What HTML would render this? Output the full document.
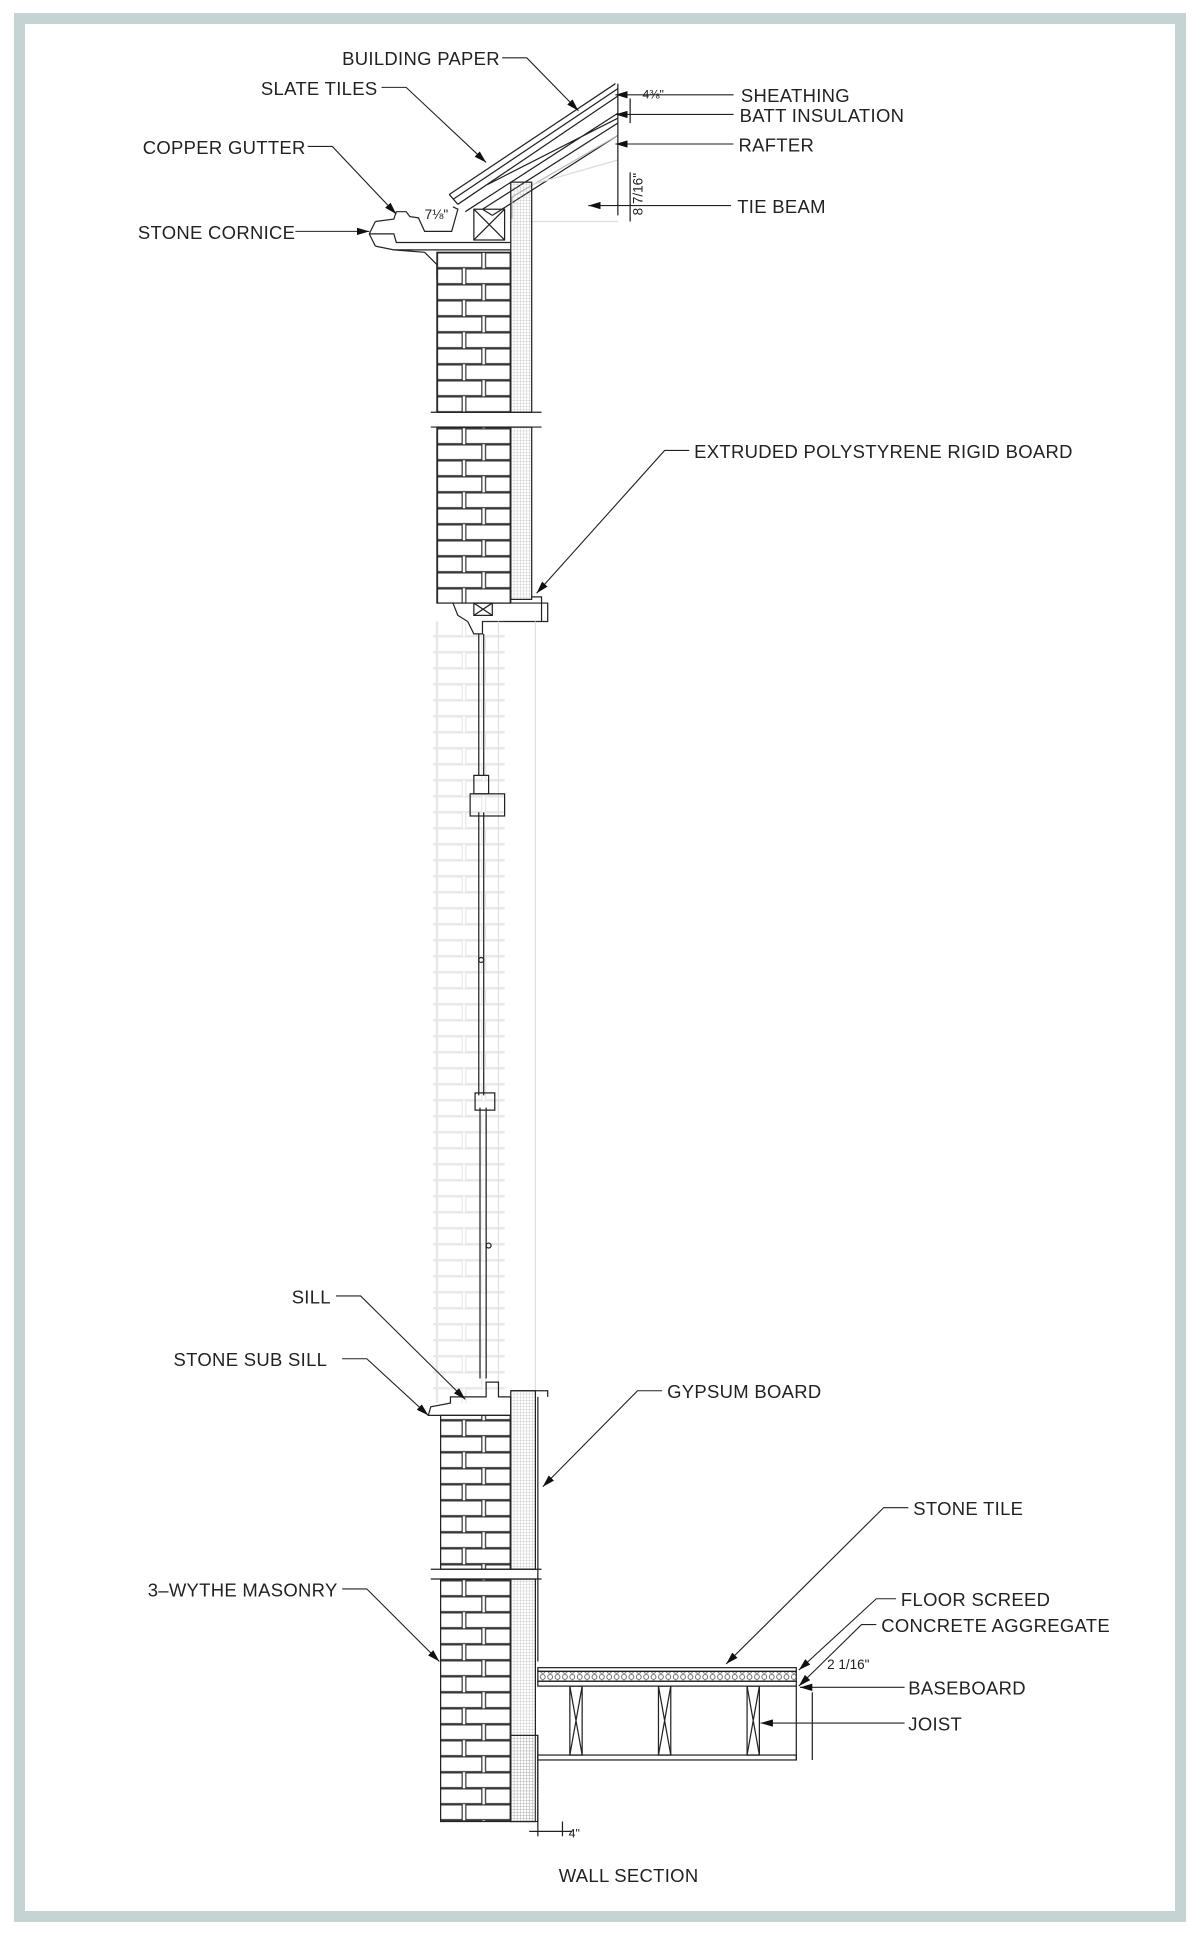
<!DOCTYPE html>
<html><head><meta charset="utf-8"><style>
html,body{margin:0;padding:0;background:#fff;}
body{width:1200px;height:1934px;position:relative;overflow:hidden;}
#frame{position:absolute;left:14px;top:13px;width:1150px;height:1887px;border:11px solid #c5d3d3;}
svg{position:absolute;left:0;top:0;}
text{font-family:"Liberation Sans",sans-serif;font-size:15px;letter-spacing:0.25px;fill:#222;}
</style></head><body>
<div id="frame"></div>
<svg width="1200" height="1934" viewBox="0 0 975 1571.4" preserveAspectRatio="none">
<defs>
<pattern id="brick" x="355" y="205" width="60" height="26" patternUnits="userSpaceOnUse">
<rect x="0.5" y="0.5" width="36" height="12" fill="none" stroke="#222" stroke-width="0.9"/>
<rect x="39.5" y="0.5" width="20" height="12" fill="none" stroke="#222" stroke-width="0.9"/>
<rect x="0.5" y="13.5" width="20" height="12" fill="none" stroke="#222" stroke-width="0.9"/>
<rect x="23.5" y="13.5" width="36" height="12" fill="none" stroke="#222" stroke-width="0.9"/>
</pattern>
<pattern id="brickL" x="355" y="205" width="60" height="26" patternUnits="userSpaceOnUse">
<rect x="0.5" y="0.5" width="36" height="12" fill="none" stroke="#e2e2e2" stroke-width="0.8"/>
<rect x="39.5" y="0.5" width="20" height="12" fill="none" stroke="#e2e2e2" stroke-width="0.8"/>
<rect x="0.5" y="13.5" width="20" height="12" fill="none" stroke="#e2e2e2" stroke-width="0.8"/>
<rect x="23.5" y="13.5" width="36" height="12" fill="none" stroke="#e2e2e2" stroke-width="0.8"/>
</pattern>
<pattern id="grid" width="2.5" height="2.5" patternUnits="userSpaceOnUse">
<path d="M0 0H2.5M0 0V2.5" stroke="#999" stroke-width="0.4" fill="none"/>
</pattern>
<pattern id="agg" width="6" height="5" patternUnits="userSpaceOnUse">
<circle cx="3" cy="2.5" r="2" fill="none" stroke="#444" stroke-width="0.6"/>
</pattern>
<marker id="ar" markerWidth="10" markerHeight="6" refX="10" refY="3" orient="auto" markerUnits="userSpaceOnUse">
<path d="M0 0L10 3L0 6z" fill="#111"/>
</marker>
</defs>

<g stroke="#222" fill="none" stroke-width="1">
<path d="M365 158 L500 68 M368 162 L502 72 M372 166 L502 78 M378 172 L502 92 M396 150 L502 96"/>
<path d="M392 170 L502 100 M400 175 L502 110 M392 170 L400 175"/>
<path d="M372 166 L365 158" />
<path d="M416 160 L502 110 M416 160 L416 178" stroke="#bbb"/>
<path d="M432 180 L502 180 M432 150 L502 130" stroke="#ddd"/>
<path d="M305 180 L320 178 L322 172 L330 172 L333 176 L340 177 L345 188 L367 188 L372 170 L368 168"/>
<path d="M300 190 L320 190 L322 197 L415 197 M305 180 L300 190 M305 200 L320 203 L345 205 L355 215 L355 227"/>
<path d="M305 200 L300 190 M320 203 L415 203"/>
<rect x="385" y="170" width="25" height="25"/>
<path d="M385 170 L410 195 M410 170 L385 195"/>
<line x1="502" y1="68" x2="502" y2="175"/>
</g>
<rect x="415" y="148" width="17" height="187" fill="url(#grid)" stroke="#222"/>
<rect x="415" y="347" width="17" height="140" fill="url(#grid)" stroke="#222"/>
<rect x="355" y="205" width="60" height="130" fill="url(#brick)" stroke="#222"/>
<rect x="355" y="347" width="60" height="143" fill="url(#brick)" stroke="#222"/>
<line x1="350" y1="335" x2="440" y2="335" stroke="#222"/>
<line x1="350" y1="347" x2="440" y2="347" stroke="#222"/>
<g stroke="#222" fill="none" stroke-width="1">
<path d="M368 490 L372 500 L380 505 L385 515 L392 515 L392 505 L445 505 L445 490 L385 490"/>
<rect x="385" y="490" width="15" height="10"/>
<path d="M385 490 L400 500 M400 490 L385 500"/>
<path d="M432 485 L440 485 L440 505"/>
</g>
<rect x="352" y="505" width="58" height="635" fill="url(#brickL)"/>
<g stroke="#e0e0e0"><line x1="435" y1="505" x2="435" y2="1130"/><line x1="405" y1="505" x2="405" y2="1130"/></g>
<g stroke="#222" fill="none" stroke-width="1">
<path d="M389 515 L389 630 M393 515 L393 630 M389 660 L389 890 M393 660 L393 890 M390 900 L390 1120 M395 900 L395 1120"/>
<rect x="385" y="630" width="12" height="15"/>
<rect x="382" y="645" width="28" height="18"/>
<rect x="386" y="888" width="16" height="14"/>
<circle cx="391" cy="780" r="2"/><circle cx="397" cy="1012" r="2"/>
</g>
<g stroke="#222" fill="none" stroke-width="1">
<path d="M348 1150 L350 1143 L366 1140 L366 1135 L395 1135 L395 1123 L405 1123 L405 1135 L415 1135 L415 1150 Z"/>
<path d="M415 1130 L445 1130 L445 1135"/>
</g>
<rect x="415" y="1130" width="20" height="145" fill="url(#grid)" stroke="#222"/>
<rect x="415" y="1283" width="20" height="197" fill="url(#grid)" stroke="#222"/>
<rect x="358" y="1150" width="57" height="125" fill="url(#brick)" stroke="#222"/>
<rect x="358" y="1283" width="57" height="197" fill="url(#brick)" stroke="#222"/>
<rect x="415" y="1410" width="22" height="70" fill="url(#grid)" stroke="#222"/>
<line x1="437" y1="1410" x2="437" y2="1480" stroke="#222"/>
<line x1="437" y1="1135" x2="437" y2="1350" stroke="#222"/>
<line x1="350" y1="1275" x2="440" y2="1275" stroke="#222"/>
<line x1="350" y1="1283" x2="440" y2="1283" stroke="#222"/>
<g stroke="#222" fill="none" stroke-width="1">
<rect x="437" y="1355" width="210" height="3"/>
<rect x="437" y="1358" width="210" height="8" fill="url(#agg)"/>
<rect x="437" y="1366" width="210" height="4"/>
<rect x="437" y="1426" width="210" height="4"/>
<rect x="463" y="1370" width="10" height="56"/><path d="M463 1370 L473 1426 M473 1370 L463 1426"/>
<rect x="535" y="1370" width="10" height="56"/><path d="M535 1370 L545 1426 M545 1370 L535 1426"/>
<rect x="607" y="1370" width="10" height="56"/><path d="M607 1370 L617 1426 M617 1370 L607 1426"/>
<line x1="647" y1="1370" x2="647" y2="1430"/>
<line x1="660" y1="1375" x2="660" y2="1430"/>
<line x1="437" y1="1480" x2="437" y2="1492"/><line x1="457" y1="1480" x2="457" y2="1492"/>
<line x1="430" y1="1488" x2="465" y2="1488"/>
<line x1="512" y1="80" x2="512" y2="100"/>
<line x1="512" y1="140" x2="512" y2="180"/>
</g>

<g stroke="#222" fill="none" stroke-width="0.9">
<path d="M408 47 L428 47 L470 90" marker-end="url(#ar)"/>
<path d="M310 71 L330 71 L395 132" marker-end="url(#ar)"/>
<path d="M250 119 L270 119 L322 174" marker-end="url(#ar)"/>
<path d="M240 188 L300 188" marker-end="url(#ar)"/>
<path d="M596 77 L500 77" marker-end="url(#ar)"/>
<path d="M596 93 L500 93" marker-end="url(#ar)"/>
<path d="M596 117 L500 117" marker-end="url(#ar)"/>
<path d="M594 167 L478 167" marker-end="url(#ar)"/>
<path d="M560 366 L540 366 L436 482" marker-end="url(#ar)"/>
<path d="M273 1053 L293 1053 L378 1137" marker-end="url(#ar)"/>
<path d="M278 1104 L298 1104 L348 1150" marker-end="url(#ar)"/>
<path d="M538 1130 L518 1130 L441 1208" marker-end="url(#ar)"/>
<path d="M738 1225 L718 1225 L590 1352" marker-end="url(#ar)"/>
<path d="M728 1299 L712 1299 L649 1357" marker-end="url(#ar)"/>
<path d="M712 1320 L700 1320 L649 1370" marker-end="url(#ar)"/>
<path d="M735 1371 L650 1371" marker-end="url(#ar)"/>
<path d="M735 1400 L618 1400" marker-end="url(#ar)"/>
<path d="M278 1291 L298 1291 L357 1350" marker-end="url(#ar)"/>
</g>

<text x="278" y="53">BUILDING PAPER</text>
<text x="212" y="77">SLATE TILES</text>
<text x="116" y="125">COPPER GUTTER</text>
<text x="112" y="194">STONE CORNICE</text>
<text x="602" y="83">SHEATHING</text>
<text x="601" y="99">BATT INSULATION</text>
<text x="600" y="123">RAFTER</text>
<text x="599" y="173">TIE BEAM</text>
<text x="564" y="372">EXTRUDED POLYSTYRENE RIGID BOARD</text>
<text x="237" y="1059">SILL</text>
<text x="141" y="1110">STONE SUB SILL</text>
<text x="542" y="1136">GYPSUM BOARD</text>
<text x="742" y="1231">STONE TILE</text>
<text x="120" y="1297">3–WYTHE MASONRY</text>
<text x="732" y="1305">FLOOR SCREED</text>
<text x="716" y="1326">CONCRETE AGGREGATE</text>
<text x="738" y="1377">BASEBOARD</text>
<text x="738" y="1406">JOIST</text>
<text x="454" y="1529">WALL SECTION</text>
<text x="462" y="1493" style="font-size:10px;letter-spacing:0">4"</text>
<text x="522" y="80" style="font-size:10px;letter-spacing:0">4⅜"</text>
<text x="345" y="178" style="font-size:11px;letter-spacing:0">7⅛"</text>
<text x="672" y="1356" style="font-size:11px;letter-spacing:0">2 1/16"</text>
<text x="522" y="175" style="font-size:11px;letter-spacing:0" transform="rotate(-90 522 175)">8 7/16"</text>
</svg>
</body></html>
